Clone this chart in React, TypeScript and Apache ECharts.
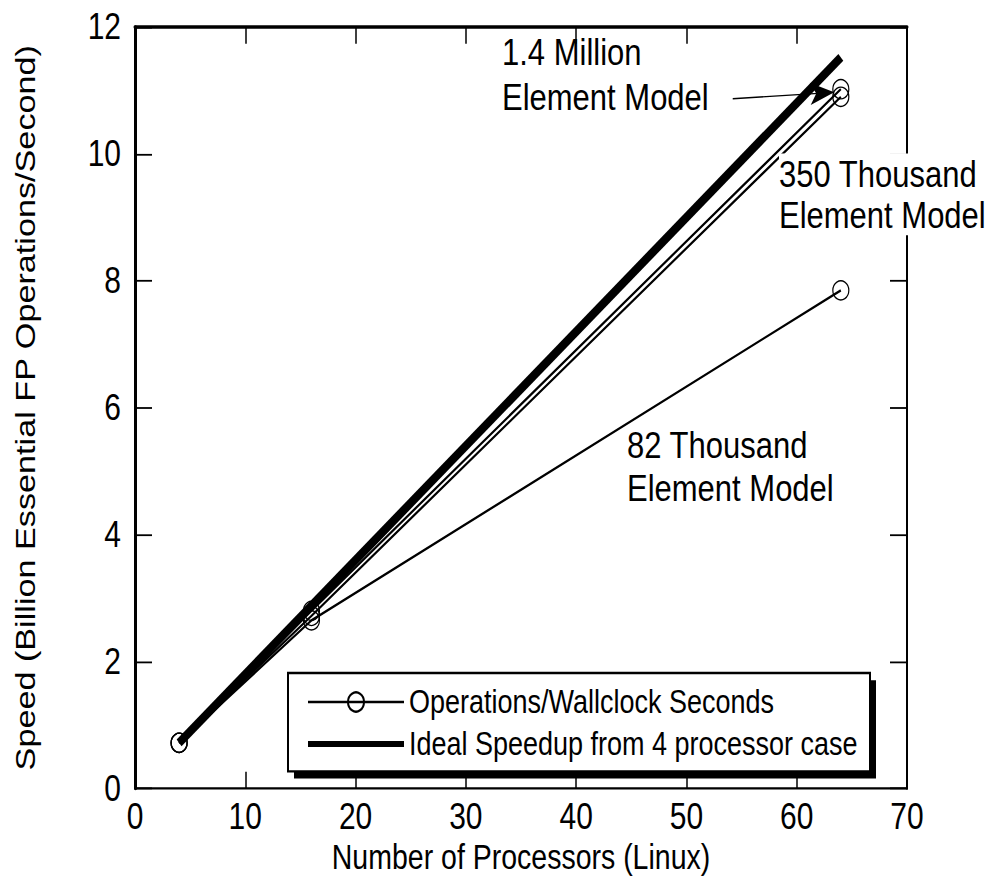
import React, { useEffect, useRef } from "react";
import * as echarts from "echarts";

// Reference appears vertically stretched; render at reduced height and stretch via CSS.
const W = 995;
const SY = 1.2;
const H = 881 / SY;

const OPS = "Operations/Wallclock Seconds";
const IDEAL = "Ideal Speedup from 4 processor case";

const xMin = 0, xMax = 70, xStep = 10;
const yMin = 0, yMax = 12, yStep = 2;

const idealSpeedup: [number, number][] = [[4, 0.72], [64, 11.52]];
const model82k: [number, number][] = [[4, 0.72], [16, 2.65], [64, 7.85]];
const model350k: [number, number][] = [[4, 0.72], [16, 2.72], [64, 10.9]];
const model1400k: [number, number][] = [[4, 0.72], [16, 2.8], [64, 11.02]];

const arrowFrom: [number, number] = [54.2, 10.87];
const arrowTo: [number, number] = [63.4, 10.97];

const FONT = "Liberation Sans";

export default function App() {
  const ref = useRef<HTMLDivElement>(null);
  useEffect(() => {
    const chart = echarts.init(ref.current!, null, { renderer: "svg" });
    const modelSeries = (data: [number, number][], extra: any = {}) => ({
      type: "line",
      name: OPS,
      data,
      symbol: "circle",
      symbolSize: 16,
      showSymbol: true,
      lineStyle: { color: "#000", width: 2 },
      itemStyle: { color: "rgba(0,0,0,0)", borderColor: "#000", borderWidth: 1.2 },
      emphasis: { disabled: true },
      z: 3,
      ...extra,
    });
    const axisCommon = {
      type: "value",
      splitLine: { show: false },
      axisTick: { inside: true, lineStyle: { color: "#000", width: 1.5 } },
    };
    chart.setOption({
      animation: false,
      backgroundColor: "#fff",
      textStyle: { fontFamily: FONT, color: "#000" },
      grid: { left: 135, right: 88, top: 22.5, bottom: 70, containLabel: false },
      xAxis: [
        {
          ...axisCommon,
          position: "bottom",
          min: xMin, max: xMax, interval: xStep,
          axisLine: { show: true, lineStyle: { color: "#000", width: 2 } },
          axisTick: { ...axisCommon.axisTick, length: 14 },
          axisLabel: { fontSize: 30, color: "#000", margin: 8, fontFamily: FONT },
          name: "Number of Processors (Linux)",
          nameLocation: "middle",
          nameGap: 41,
          nameTextStyle: { fontSize: 28.5, color: "#000", fontFamily: FONT },
        },
        {
          ...axisCommon,
          position: "top",
          min: xMin, max: xMax, interval: xStep,
          axisLine: { show: true, onZero: false, lineStyle: { color: "#000", width: 3 } },
          axisTick: { ...axisCommon.axisTick, length: 14 },
          axisLabel: { show: false },
        },
      ],
      yAxis: [
        {
          ...axisCommon,
          position: "left",
          min: yMin, max: yMax, interval: yStep,
          axisLine: { show: true, lineStyle: { color: "#000", width: 3 } },
          axisTick: { ...axisCommon.axisTick, length: 17 },
          axisLabel: { fontSize: 30, color: "#000", margin: 14, fontFamily: FONT },
          name: "Speed (Billion Essential FP Operations/Second)",
          nameLocation: "middle",
          nameGap: 95,
          nameRotate: 90,
          nameTextStyle: { fontSize: 28.5, color: "#000", fontFamily: FONT },
        },
        {
          ...axisCommon,
          position: "right",
          min: yMin, max: yMax, interval: yStep,
          axisLine: { show: true, onZero: false, lineStyle: { color: "#000", width: 2 } },
          axisTick: { ...axisCommon.axisTick, length: 17 },
          axisLabel: { show: false },
        },
      ],
      legend: {
        show: true,
        orient: "vertical",
        left: 307,
        top: 570,
        padding: 0,
        itemWidth: 96,
        itemHeight: 20,
        itemGap: 5,
        selectedMode: false,
        z: 10,
        textStyle: { fontSize: 27, color: "#000", fontFamily: FONT, lineHeight: 30 },
        data: [
          { name: OPS },
          { name: IDEAL, icon: "path://M0,0L96,0L96,5L0,5Z", itemStyle: { color: "#000", borderWidth: 0 } },
        ],
      },
      graphic: [
        { type: "rect", z: 8, shape: { x: 294, y: 566.8, width: 582, height: 82 }, style: { fill: "#000" } },
        { type: "rect", z: 9, shape: { x: 288, y: 560.8, width: 582, height: 82 }, style: { fill: "#fff", stroke: "#000", lineWidth: 2 } },
        {
          type: "text", z: 100, x: 502, y: 24.5,
          style: { text: "1.4 Million\nElement Model", font: `31px "${FONT}"`, fill: "#000", lineHeight: 37.5, verticalAlign: "top", align: "left" },
        },
        {
          type: "text", z: 100, x: 779, y: 128,
          style: { text: "350 Thousand\nElement Model", font: `31px "${FONT}"`, fill: "#000", lineHeight: 34, verticalAlign: "top", align: "left", backgroundColor: "#fff" },
        },
        {
          type: "text", z: 100, x: 627, y: 353,
          style: { text: "82 Thousand\nElement Model", font: `31px "${FONT}"`, fill: "#000", lineHeight: 36, verticalAlign: "top", align: "left" },
        },
      ],
      series: [
        {
          type: "line",
          name: IDEAL,
          data: idealSpeedup,
          symbol: "none",
          lineStyle: { color: "#000", width: 7.5 },
          itemStyle: { color: "#000" },
          emphasis: { disabled: true },
          z: 2,
        },
        modelSeries(model82k),
        modelSeries(model350k),
        modelSeries(model1400k, {
          markLine: {
            silent: true,
            symbol: ["none", "arrow"],
            symbolSize: [14, 24],
            label: { show: false },
            lineStyle: { color: "#000", width: 1.2, type: "solid" },
            data: [[{ coord: arrowFrom }, { coord: arrowTo }]],
          },
        }),
      ],
    });
    return () => chart.dispose();
  }, []);
  return (
    <div
      ref={ref}
      style={{
        position: "fixed",
        left: 0,
        top: 0,
        width: W,
        height: H,
        transform: `scaleY(${SY})`,
        transformOrigin: "0 0",
        background: "#fff",
      }}
    />
  );
}
